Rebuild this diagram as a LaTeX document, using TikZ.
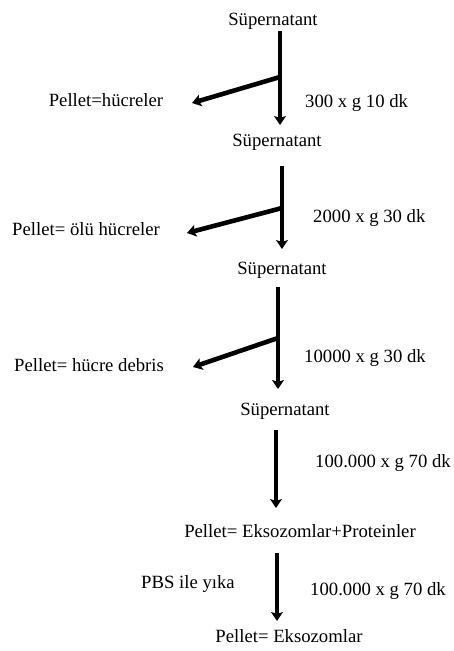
\documentclass[tikz,border=0pt]{standalone}
\usepackage{fontspec}
\setmainfont{Liberation Serif}
\usetikzlibrary{arrows.meta}
\begin{document}
\begin{tikzpicture}[x=1pt,y=-1pt,
  txt/.style={inner sep=0pt,font=\fontsize{18.7}{22}\selectfont},
  lbl/.style={txt,anchor=base},
  lblw/.style={txt,anchor=base west},
  flow/.style={line width=4.6pt,-{Stealth[length=9pt,width=12pt,inset=2pt]}},
  bar/.style={line width=4.6pt}]
\useasboundingbox (0,0) rectangle (453,651);
\fill[white] (0,0) rectangle (453,651);
% texts
\node[lbl] (s1) at (273,25) {Süpernatant};
\node[lbl] (p1) at (106,106) {Pellet=hücreler};
\node[lblw] (c1) at (305,107) {300 x g 10 dk};
\node[lbl] (s2) at (277,146) {Süpernatant};
\node[lbl] (p2) at (86,235) {Pellet= ölü hücreler};
\node[lblw] (c2) at (313,222) {2000 x g 30 dk};
\node[lbl] (s3) at (282,274) {Süpernatant};
\node[lblw] (p3) at (14,371) {Pellet= hücre debris};
\node[lblw] (c3) at (304,362) {10000 x g 30 dk};
\node[lbl] (s4) at (285,415) {Süpernatant};
\node[lblw] (c4) at (315,467) {100.000 x g 70 dk};
\node[lbl] (p4) at (300,537) {Pellet= Eksozomlar+Proteinler};
\node[lbl] (w) at (188,588) {PBS ile yıka};
\node[lblw] (c5) at (310,595) {100.000 x g 70 dk};
\node[lbl] (p5) at (289,642) {Pellet= Eksozomlar};
% coordinates
\coordinate (t1) at (280,31); \coordinate (b1) at (280,125);
\coordinate (j1) at (280,77); \coordinate (e1) at (192,103);
\coordinate (t2) at (282,166); \coordinate (b2) at (282,249);
\coordinate (j2) at (282,208); \coordinate (e2) at (187,233);
\coordinate (t3) at (278,287); \coordinate (b3) at (278,389);
\coordinate (j3) at (278,338); \coordinate (e3) at (193,367);
\coordinate (t4) at (276,430); \coordinate (b4) at (276,508);
\coordinate (t5) at (277,553); \coordinate (b5) at (277,621);
% arrows
\draw[flow] (t1) -- (b1);
\draw[flow] (j1) -- (e1);
\draw[flow] (t2) -- (b2);
\draw[flow] (j2) -- (e2);
\draw[flow] (t3) -- (b3);
\draw[flow] (j3) -- (e3);
\draw[flow] (t4) -- (b4);
\draw[flow] (t5) -- (b5);
\end{tikzpicture}
\end{document}
